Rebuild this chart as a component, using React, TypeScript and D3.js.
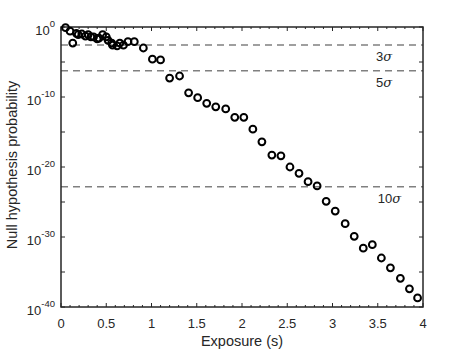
import { useMemo } from "react"
import * as d3 from "d3"

// exposure (s) and log10 of the null hypothesis probability
const exposure = [
  0.05, 0.1, 0.13, 0.17, 0.19, 0.23, 0.27, 0.3, 0.33, 0.36, 0.4, 0.42, 0.46, 0.5, 0.52, 0.56,
  0.57, 0.62, 0.65, 0.69, 0.74, 0.81, 0.91, 1.01, 1.1, 1.2, 1.31, 1.41, 1.51, 1.61, 1.71, 1.82,
  1.92, 2.02, 2.12, 2.22, 2.33, 2.43, 2.53, 2.63, 2.73, 2.83, 2.93, 3.03, 3.14, 3.24, 3.34,
  3.44, 3.54, 3.64, 3.75, 3.85, 3.94,
]
const logProb = [
  -0.1, -0.6, -2.3, -0.9, -1.1, -1.0, -1.3, -1.1, -1.4, -1.4, -1.7, -1.6, -1.1, -1.4, -1.9, -2.3,
  -2.6, -2.7, -2.3, -2.6, -2.1, -2.1, -3.0, -4.6, -4.7, -7.3, -7.0, -9.4, -10.1, -10.9, -11.4,
  -11.7, -12.9, -12.9, -14.6, -16.4, -18.3, -18.4, -20.0, -20.9, -22.1, -22.7, -24.9, -26.3,
  -28.1, -29.9, -31.6, -31.1, -33.0, -34.4, -35.9, -37.4, -38.7,
]

const sigmaLabels = ["3", "5", "10"]
const sigmaProb = [2.7e-3, 5.7e-7, 1.5e-23]
const sigmaLabelX = [3.48, 3.48, 3.5]

const xTicks = [0, 0.5, 1, 1.5, 2, 2.5, 3, 3.5, 4]
const yTickExp = [0, -10, -20, -30, -40]

export default function App() {
  const width = 467
  const height = 350
  const margin = { top: 27, right: 44, bottom: 43, left: 61 }
  const innerW = width - margin.left - margin.right
  const innerH = height - margin.top - margin.bottom

  const x = useMemo(() => d3.scaleLinear().domain([0, 4]).range([0, innerW]), [innerW])
  const y = useMemo(
    () => d3.scaleLog().domain([1e-40, 1]).range([innerH, 0]),
    [innerH]
  )

  const points = exposure.map((e, i) => ({ e, p: Math.pow(10, logProb[i]) }))
  const minorX = d3.range(0, 4.0001, 0.1)
  const minorY = [-5, -15, -25, -35]

  const font = "'Liberation Sans', Arial, Helvetica, sans-serif"
  const axisColor = "#262626"

  return (
    <div style={{ position: "absolute", left: 0, top: 0 }}>
      <svg width={width} height={height} style={{ display: "block", fontFamily: font }}>
        <rect width={width} height={height} fill="#fff" />
        <g transform={`translate(${margin.left},${margin.top})`}>
          {/* sigma thresholds */}
          {sigmaProb.map((p, i) => (
            <line
              key={i}
              x1={0}
              x2={innerW}
              y1={y(p)}
              y2={y(p)}
              stroke="#808080"
              strokeWidth={1.5}
              strokeDasharray="7,5"
            />
          ))}
          {sigmaProb.map((p, i) => (
            <text
              key={"l" + i}
              x={x(sigmaLabelX[i])}
              y={y(p) + 16}
              fontSize={13}
              fill="#262626"
            >
              {sigmaLabels[i]}
              <tspan fontStyle="italic" fontFamily="'DejaVu Serif', serif">σ</tspan>
            </text>
          ))}

          {/* x ticks */}
          {minorX.map((v, i) => {
            const major = i % 5 === 0
            const len = major ? 4 : 2
            return (
              <g key={"xt" + i}>
                <line x1={x(v)} x2={x(v)} y1={innerH} y2={innerH - len} stroke={axisColor} />
                <line x1={x(v)} x2={x(v)} y1={0} y2={len} stroke={axisColor} />
              </g>
            )
          })}
          {xTicks.map((v) => (
            <text
              key={"xl" + v}
              x={x(v)}
              y={innerH + 21}
              textAnchor="middle"
              fontSize={13}
              fill={axisColor}
            >
              {v}
            </text>
          ))}

          {/* y ticks */}
          {yTickExp.concat(minorY).map((k) => (
            <g key={"yt" + k}>
              <line x1={0} x2={4} y1={y(Math.pow(10, k))} y2={y(Math.pow(10, k))} stroke={axisColor} />
              <line
                x1={innerW}
                x2={innerW - 4}
                y1={y(Math.pow(10, k))}
                y2={y(Math.pow(10, k))}
                stroke={axisColor}
              />
            </g>
          ))}
          {yTickExp.map((k) => (
            <text
              key={"yl" + k}
              x={-6}
              y={y(Math.pow(10, k)) + 8}
              textAnchor="end"
              fontSize={13}
              fill={axisColor}
            >
              10
              <tspan dy={-8} fontSize={9.5}>
                {k}
              </tspan>
            </text>
          ))}

          {/* box */}
          <rect
            x={0}
            y={0}
            width={innerW}
            height={innerH}
            fill="none"
            stroke={axisColor}
            strokeWidth={1.5}
          />

          {points.map((d, i) => (
            <circle
              key={i}
              cx={x(d.e)}
              cy={y(d.p)}
              r={3.4}
              fill="none"
              stroke="#000"
              strokeWidth={2}
            />
          ))}
        </g>

        <text
          x={margin.left + innerW / 2}
          y={height - 4}
          textAnchor="middle"
          fontSize={14.5}
          fill={axisColor}
        >
          Exposure (s)
        </text>
        <text
          transform={`translate(17,${margin.top + innerH / 2 - 2}) rotate(-90)`}
          textAnchor="middle"
          fontSize={14.5}
          fill={axisColor}
        >
          Null hypothesis probability
        </text>
      </svg>
    </div>
  )
}
